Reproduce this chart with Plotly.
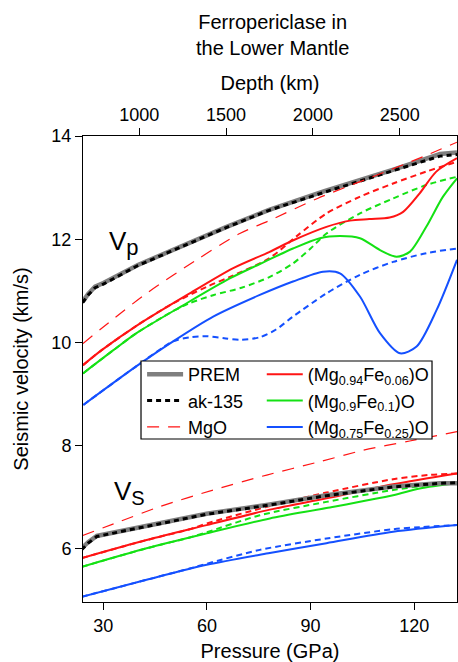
import plotly.graph_objects as go

# ---- pressure axis (GPa) and depth axis (km) ----
pressure_range = [24.1, 132.4]
depth_range = [676, 2830]
depth_ticks = [1000, 1500, 2000, 2500]
pressure_ticks = [30, 60, 90, 120]
velocity_ticks = [6, 8, 10, 12, 14]

# ---- seismic reference models ----
p_prem_vp = [24.0, 25.6, 27.6, 30.0, 40.0, 52.0, 65.7, 78.0, 94.0, 114.0, 127.5, 132.4]
vp_prem = [10.79, 10.94, 11.08, 11.15, 11.50, 11.85, 12.24, 12.57, 12.93, 13.35, 13.65, 13.68]
vp_ak135 = [10.77, 10.92, 11.06, 11.13, 11.49, 11.84, 12.23, 12.56, 12.91, 13.33, 13.61, 13.64]

p_prem_vs = [23.7, 25.6, 28.1, 42.5, 59.9, 78.2, 94.6, 113.9, 127.4, 132.4]
vs_prem = [6.01, 6.13, 6.25, 6.45, 6.68, 6.86, 7.04, 7.21, 7.27, 7.27]
vs_ak135 = [5.98, 6.11, 6.24, 6.44, 6.67, 6.85, 7.03, 7.20, 7.27, 7.28]

# ---- MgO ----
p_mgo_vp = [24.1, 33.0, 42.5, 57.0, 69.5, 78.0, 92.0, 108.0, 122.6, 132.4]
vp_mgo = [9.98, 10.46, 10.95, 11.60, 12.11, 12.36, 12.79, 13.21, 13.60, 13.88]
p_mgo_vs = [24.0, 34.8, 46.4, 61.8, 77.3, 92.7, 105.2, 118.7, 132.4]
vs_mgo = [6.26, 6.53, 6.82, 7.14, 7.43, 7.69, 7.91, 8.09, 8.27]

# ---- (Mg0.94Fe0.06)O ----
p_fe06_vp = [24.1, 29.5, 40.0, 55.0, 67.6, 78.0, 85.0, 94.6, 101.4, 107.0, 112.9, 116.8, 121.6, 126.4, 132.4]
vp_fe06 = [9.56, 9.85, 10.34, 10.95, 11.44, 11.75, 11.98, 12.24, 12.36, 12.39, 12.42, 12.53, 12.89, 13.31, 13.57]
p_fe06_vp_alt = [24.1, 29.5, 40.0, 50.0, 60.0, 67.0, 78.0, 86.0, 94.6, 104.2, 113.9, 123.5, 132.4]
vp_fe06_alt = [9.56, 9.85, 10.34, 10.75, 11.08, 11.28, 11.63, 12.06, 12.50, 12.82, 13.08, 13.31, 13.50]
p_fe06_vs = [23.7, 42.5, 59.9, 78.2, 94.6, 113.9, 132.4]
vs_fe06 = [5.82, 6.17, 6.46, 6.76, 6.98, 7.25, 7.46]
p_fe06_vs_alt = [23.7, 42.5, 55.0, 59.9, 78.2, 94.6, 113.9, 124.0, 132.4]
vs_fe06_alt = [5.82, 6.17, 6.38, 6.49, 6.83, 7.09, 7.35, 7.43, 7.46]

# ---- (Mg0.9Fe0.1)O ----
p_fe10_vp = [24.1, 32.9, 39.6, 53.1, 66.6, 75.3, 84.9, 92.7, 98.5, 104.3, 110.1, 114.9, 118.8, 123.5, 128.3, 132.4]
vp_fe10 = [9.40, 9.85, 10.18, 10.72, 11.24, 11.52, 11.82, 12.02, 12.06, 12.02, 11.79, 11.66, 11.76, 12.24, 12.82, 13.18]
p_fe10_vp_alt = [24.1, 32.9, 39.6, 50.0, 55.0, 62.0, 70.0, 78.2, 84.9, 90.0, 94.6, 104.3, 113.9, 123.5, 132.4]
vp_fe10_alt = [9.40, 9.85, 10.18, 10.60, 10.76, 10.92, 11.06, 11.27, 11.53, 11.82, 12.11, 12.50, 12.79, 13.05, 13.21]
p_fe10_vs = [23.7, 42.5, 59.9, 78.2, 94.6, 113.9, 121.6, 132.4]
vs_fe10 = [5.65, 6.01, 6.30, 6.59, 6.79, 7.04, 7.17, 7.27]
p_fe10_vs_alt = [23.7, 42.5, 55.0, 59.9, 75.3, 94.6, 113.9, 123.5, 132.4]
vs_fe10_alt = [5.65, 6.01, 6.22, 6.32, 6.65, 6.91, 7.14, 7.23, 7.27]

# ---- (Mg0.75Fe0.25)O ----
p_fe25_vp = [24.2, 39.6, 50.2, 61.8, 75.3, 84.9, 93.6, 98.5, 104.3, 110.1, 115.9, 120.7, 126.5, 132.4]
vp_fe25 = [8.79, 9.54, 10.02, 10.50, 10.92, 11.18, 11.37, 11.34, 10.89, 10.18, 9.79, 9.92, 10.63, 11.60]
p_fe25_vp_alt = [24.2, 39.6, 50.2, 55.0, 59.9, 65.0, 69.5, 75.3, 80.0, 84.9, 94.6, 104.3, 113.9, 123.5, 132.4]
vp_fe25_alt = [8.79, 9.54, 10.02, 10.10, 10.12, 10.08, 10.05, 10.10, 10.25, 10.50, 10.95, 11.31, 11.56, 11.73, 11.82]
p_fe25_vs = [23.7, 42.5, 59.9, 78.2, 94.6, 113.9, 132.4]
vs_fe25 = [5.07, 5.40, 5.69, 5.92, 6.11, 6.33, 6.46]
p_fe25_vs_alt = [23.7, 42.5, 55.0, 59.9, 75.3, 94.6, 113.9, 121.6, 132.4]
vs_fe25_alt = [5.07, 5.40, 5.62, 5.71, 5.98, 6.20, 6.38, 6.42, 6.46]

RED = "#ff1414"
GREEN = "#14e114"
BLUE = "#1450ff"
GRAY = "#7f7f7f"
FONT = "Liberation Sans, Arial, sans-serif"

fig = go.Figure()


def add_line(x, y, color, width, dash="solid", name=None, legend=None, shape="spline"):
    fig.add_trace(go.Scatter(
        x=x, y=y, mode="lines",
        line=dict(color=color, width=width, dash=dash, shape=shape, smoothing=0.8),
        name=name, showlegend=name is not None,
        legend=legend or "legend", hoverinfo="skip",
    ))


SHORT = "6px,4px"
LONG = "12px,9px"

# compositions: dashed companions first so the solid lines sit on top
for px, vals, col in [
    (p_fe06_vp_alt, vp_fe06_alt, RED), (p_fe10_vp_alt, vp_fe10_alt, GREEN), (p_fe25_vp_alt, vp_fe25_alt, BLUE),
    (p_fe06_vs_alt, vs_fe06_alt, RED), (p_fe10_vs_alt, vs_fe10_alt, GREEN), (p_fe25_vs_alt, vs_fe25_alt, BLUE),
]:
    add_line(px, vals, col, 2, SHORT)

add_line(p_fe06_vs, vs_fe06, RED, 2)
add_line(p_fe10_vs, vs_fe10, GREEN, 2)
add_line(p_fe25_vs, vs_fe25, BLUE, 2)
add_line(p_fe06_vp, vp_fe06, RED, 2, name="(Mg<sub>0.94</sub>Fe<sub>0.06</sub>)O", legend="legend2")
add_line(p_fe10_vp, vp_fe10, GREEN, 2, name="(Mg<sub>0.9</sub>Fe<sub>0.1</sub>)O", legend="legend2")
add_line(p_fe25_vp, vp_fe25, BLUE, 2, name="(Mg<sub>0.75</sub>Fe<sub>0.25</sub>)O", legend="legend2")

# MgO
add_line(p_mgo_vs, vs_mgo, RED, 1.2, LONG)

# reference models
add_line(p_prem_vs, vs_prem, GRAY, 4.5, shape="linear")
add_line(p_prem_vs, vs_ak135, "black", 3, "5px,4px", shape="linear")
add_line(p_prem_vp, vp_prem, GRAY, 4.5, name="PREM", shape="linear")
add_line(p_prem_vp, vp_ak135, "black", 3, "5px,4px", name="ak-135", shape="linear")
add_line(p_mgo_vp, vp_mgo, RED, 1.2, LONG, name="MgO")

# empty trace that attaches the depth scale along the top edge
fig.add_trace(go.Scatter(x=depth_ticks, y=[None] * len(depth_ticks), xaxis="x2", yaxis="y",
                         mode="lines", showlegend=False, hoverinfo="skip"))

# legend frame (white box hides the curves behind it)
fig.add_shape(type="rect", xref="paper", yref="paper",
              x0=0.1551, x1=0.9332, y0=0.3498, y1=0.5172,
              line=dict(color="black", width=1.2), fillcolor="white", layer="above")

# figure heading
fig.add_annotation(x=0.508, y=1.2157, xref="paper", yref="paper", xanchor="center", yanchor="middle",
                   text="Ferropericlase in<br>the Lower Mantle", showarrow=False,
                   font=dict(family=FONT, size=20, color="black"))

# wave-type labels
fig.add_annotation(x=31.0, y=11.93, xref="x", yref="y", xanchor="left", yanchor="middle",
                   text="V<sub><span style='font-size:22px'>p</span></sub>", showarrow=False,
                   font=dict(family=FONT, size=26, color="black"))
fig.add_annotation(x=32.4, y=7.10, xref="x", yref="y", xanchor="left", yanchor="middle",
                   text="V<sub><span style='font-size:20px'>S</span></sub>", showarrow=False,
                   font=dict(family=FONT, size=26, color="black"))

axis_common = dict(showline=True, linecolor="black", linewidth=1, ticks="outside",
                   ticklen=7, tickwidth=1, tickcolor="black", showgrid=False, zeroline=False,
                   tickfont=dict(family=FONT, size=18, color="black"))

legend_common = dict(bgcolor="rgba(0,0,0,0)", borderwidth=0, yanchor="top", xanchor="left",
                     font=dict(family=FONT, size=18, color="black"), tracegroupgap=0,
                     traceorder="normal", itemwidth=36)

fig.update_layout(
    width=458, height=662,
    margin=dict(l=83, r=1, t=136, b=60),
    plot_bgcolor="white", paper_bgcolor="white",
    font=dict(family=FONT, size=18, color="black"),
    xaxis=dict(range=pressure_range, tickvals=pressure_ticks, mirror=True,
               title=dict(text="Pressure (GPa)", font=dict(family=FONT, size=20), standoff=11),
               **axis_common),
    xaxis2=dict(range=depth_range, tickvals=depth_ticks, overlaying="x", side="top", anchor="y",
                title=dict(text="Depth (km)", font=dict(family=FONT, size=20), standoff=8),
                **axis_common),
    yaxis=dict(range=[4.97, 14.0], tickvals=velocity_ticks, mirror=True,
               title=dict(text="Seismic velocity (km/s)", font=dict(family=FONT, size=20), standoff=17),
               **axis_common),
    legend=dict(x=0.158, y=0.528, **legend_common),
    legend2=dict(x=0.478, y=0.528, **legend_common),
)

fig.write_html("out.html")
